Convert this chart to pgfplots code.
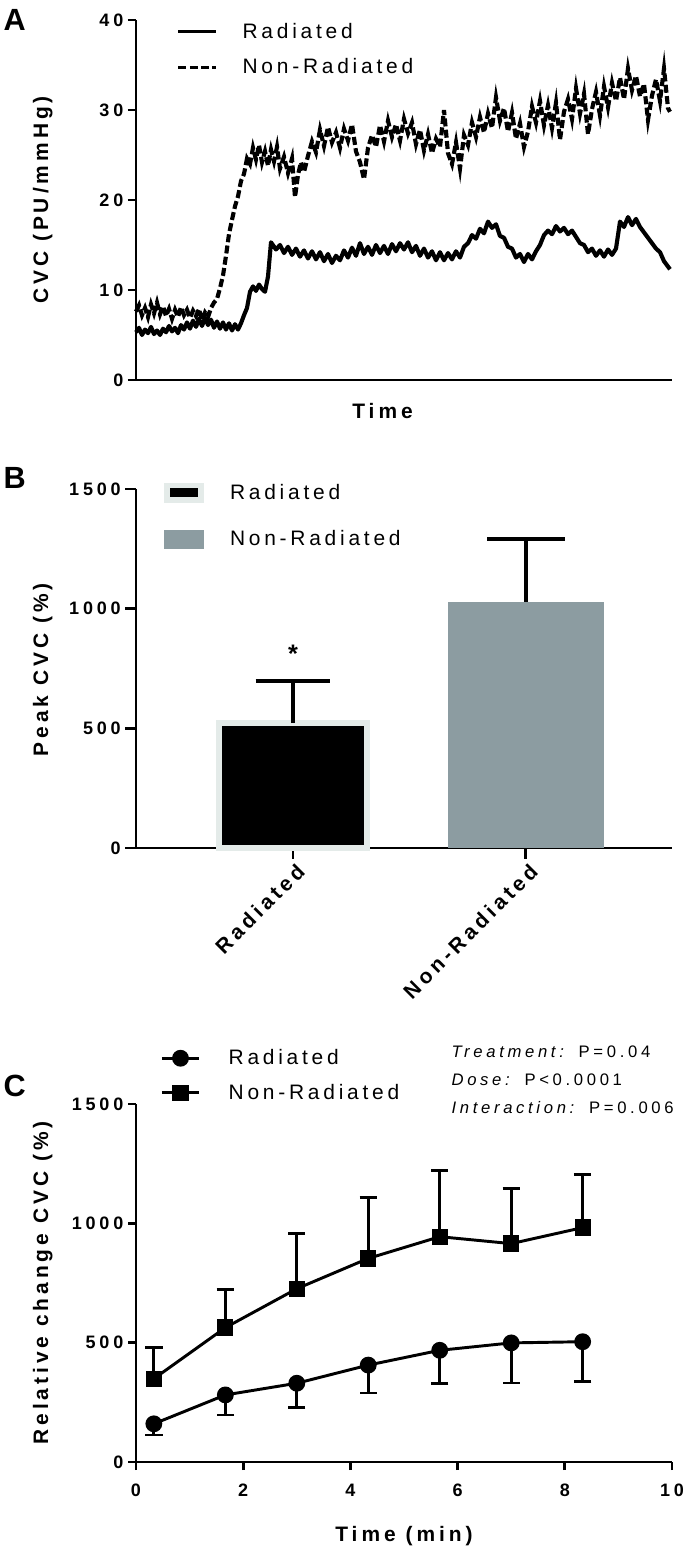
\documentclass[border=0pt]{standalone}
\usepackage{fontspec}
\setmainfont{Liberation Sans}
\newfontfamily\tickf[LetterSpace=21]{Liberation Sans}
\newfontfamily\labf[LetterSpace=19]{Liberation Sans}
\newfontfamily\legf[LetterSpace=18]{Liberation Sans}
\newfontfamily\anf[LetterSpace=22]{Liberation Sans}
\usepackage{pgfplots}
\usepackage{pgfplotstable}
\pgfplotsset{compat=1.18}
\definecolor{bordc}{HTML}{E4EBE9}
\definecolor{barg}{HTML}{8C9CA1}

\pgfplotstableread{
x y
0 5.3
3 5.8
6 5.0
9 5.6
12 5.2
15 5.9
18 5.1
21 5.5
24 5.0
27 5.7
30 5.3
33 6.0
36 5.4
39 5.8
42 5.2
45 6.1
48 5.6
51 6.4
54 5.7
57 6.6
60 5.9
63 6.8
66 6.0
69 6.9
72 6.1
75 6.7
78 5.8
81 6.5
84 5.7
87 6.4
90 5.6
93 6.3
96 5.5
99 6.2
102 5.6
105 6.3
108 7.2
111 8.0
114 9.8
117 10.4
120 9.9
123 10.6
126 10.1
129 9.8
132 11.5
135 15.3
140 14.5
144 15.0
148 14.1
152 14.8
156 13.9
160 14.6
164 13.7
168 14.4
172 13.5
176 14.3
180 13.4
184 14.2
188 13.2
192 14.0
196 13.0
200 13.8
204 13.3
208 14.4
212 13.6
216 14.7
220 13.8
224 15.2
228 14.0
232 14.8
236 13.9
240 15.0
244 14.1
248 14.9
252 14.0
256 15.1
260 14.3
264 15.2
268 14.5
272 15.3
276 14.2
280 14.9
284 13.8
288 14.6
292 13.6
296 14.3
300 13.3
304 14.2
308 13.3
312 14.1
316 13.4
320 14.3
324 13.6
328 14.8
332 15.2
336 16.1
340 15.7
344 16.8
348 16.3
352 17.6
356 16.9
360 17.3
364 16.0
368 15.8
372 14.8
376 14.6
380 13.6
384 14.0
388 13.1
392 14.0
396 13.4
400 14.3
404 15.0
408 16.1
412 16.6
416 16.2
420 17.1
424 16.5
428 16.9
432 16.2
436 16.6
440 15.9
444 15.2
448 15.0
452 14.2
456 14.6
460 13.8
464 14.4
468 13.7
472 14.5
476 13.9
480 14.6
484 17.6
488 17.0
492 18.1
496 17.2
500 17.9
504 17.0
508 16.4
512 15.8
516 15.2
520 14.6
524 14.2
528 13.2
532 12.6
534 12.3
}\radtrace

\pgfplotstableread{
x y
0 7.6
3 8.3
6 7.2
9 8.0
12 7.0
15 8.4
18 7.4
21 8.6
24 7.3
27 8.2
30 7.1
33 7.9
36 6.8
39 7.8
42 7.0
45 8.1
48 7.2
51 7.8
54 6.9
57 7.7
60 7.1
63 7.9
66 6.6
69 7.5
72 7.0
75 8.0
78 8.6
81 9.0
84 10.2
87 11.6
90 13.8
93 16.2
96 17.8
99 19.3
102 20.4
105 22.1
108 22.9
111 24.6
114 24.0
117 25.8
120 24.5
123 26.1
126 24.2
129 25.4
132 23.8
135 25.6
138 24.3
141 25.9
144 23.5
148 24.8
152 23.0
156 24.6
159 20.3
162 22.8
165 24.2
168 23.1
172 24.9
176 26.5
180 25.3
184 27.8
188 26.0
192 28.1
196 26.4
200 27.5
204 25.8
208 27.9
212 26.6
216 28.4
220 25.4
224 24.2
228 22.3
232 25.8
236 27.2
240 25.9
244 28.3
248 26.5
252 28.8
256 27.0
260 28.4
264 26.6
268 29.0
272 27.4
276 28.6
280 26.2
284 27.8
288 25.5
292 27.3
296 25.2
300 26.8
304 25.9
308 30.0
312 25.2
316 24.0
320 26.4
324 23.5
328 27.2
332 26.1
336 28.6
340 27.0
344 29.2
348 27.5
352 29.6
356 28.0
360 31.4
364 28.8
368 30.2
372 27.6
376 29.7
380 26.8
384 28.5
388 25.9
392 27.6
396 30.4
400 28.6
404 31.0
408 28.3
412 30.5
416 28.0
420 30.8
424 26.7
428 29.8
432 31.2
436 29.0
440 32.4
444 29.6
448 31.8
452 27.3
456 30.1
460 32.0
464 29.4
468 32.6
472 30.3
476 33.0
480 31.0
484 33.6
488 31.2
492 34.6
496 32.2
500 33.8
504 31.5
508 32.9
512 28.9
516 31.6
520 33.4
524 31.0
528 34.6
532 30.2
534 29.8
}\nonradtrace

\pgfplotstableread{
x y err
0.333 160 47
1.667 281 84
3 330 102
4.333 406 117
5.667 468 138
7 499 168
8.333 504 167
}\radC

\pgfplotstableread{
x y err
0.333 349 130
1.667 563 160
3 726 232
4.333 853 257
5.667 944 278
7 915 230
8.333 982 223
}\nonradC

\pgfplotsset{
  panel/.style={
    scale only axis,
    width=402pt,
    axis x line*=bottom,
    axis y line*=left,
    axis line style={line width=2.2pt},
    every tick/.style={line width=2.2pt, black},
    tick align=outside,
    major tick length=6pt,
    ticklabel style={font=\tickf\bfseries\fontsize{13.5}{13.5}\selectfont},
    /pgf/number format/assume math mode=true,
    /pgf/number format/1000 sep={},
    xlabel style={font=\labf\bfseries\fontsize{15.7}{15.7}\selectfont},
    ylabel style={font=\labf\bfseries\fontsize{15.7}{15.7}\selectfont},
    clip=false,
    legend cell align=left,
  },
}

\begin{document}
\begin{tikzpicture}
\useasboundingbox (0,0) rectangle (513.75pt,1161.75pt);

% Panel letters
\node[font=\bfseries\fontsize{23}{23}\selectfont, anchor=center] at (11pt,1147pt) {A};
\node[font=\bfseries\fontsize{23}{23}\selectfont, anchor=center] at (11pt,803pt) {B};
\node[font=\bfseries\fontsize{23}{23}\selectfont, anchor=center] at (11pt,347pt) {C};

% ---------------- Panel A
\begin{axis}[panel,
  at={(102pt,876.75pt)}, anchor=south west,
  height=270pt,
  xmin=0, xmax=536, ymin=0, ymax=40,
  ytick={0,10,20,30,40}, xtick=\empty,
  xlabel={Time},
  xlabel style={at={(axis description cs:0.46,0)}, anchor=north, yshift=-14pt},
  ylabel={CVC (PU/mmHg)},
  ylabel style={at={(axis description cs:-0.174,0.5)}, anchor=center},
  legend style={at={(axis description cs:0.076,1.0)}, anchor=north west,
    draw=none, fill=none, font=\legf\fontsize{15.7}{15.7}\selectfont,
    row sep=10pt, inner sep=0pt,
    /tikz/every odd column/.append style={column sep=17pt}},
  legend image code/.code={\draw[#1, line width=2.2pt] (0pt,0pt) -- (28pt,0pt);},
]
\addplot[black, line width=3.1pt, line join=round] table[x=x,y=y] {\radtrace};
\addlegendentry{Radiated}
\addplot[black, line width=3.1pt, dash pattern=on 6pt off 2.5pt] table[x=x,y=y] {\nonradtrace};
\addlegendentry{Non-Radiated}
\end{axis}

% ---------------- Panel B
\begin{axis}[panel,
  at={(102pt,525.75pt)}, anchor=south west,
  height=269.25pt,
  xmin=0.326, xmax=2.627, ymin=0, ymax=1500,
  ytick={0,500,1000,1500},
  xtick={1,2}, xticklabels={Radiated,Non-Radiated},
  major tick length=8pt,
  xticklabel style={rotate=45, anchor=east, font=\labf\bfseries\fontsize{15.7}{15.7}\selectfont, xshift=3pt, yshift=-9pt},
  ylabel={Peak CVC  (\%)},
  ylabel style={at={(axis description cs:-0.174,0.496)}, anchor=center},
  legend style={at={(axis description cs:0.052,1.022)}, anchor=north west,
    draw=none, fill=none, font=\legf\fontsize{15.7}{15.7}\selectfont,
    row sep=18pt, inner sep=0pt,
    /tikz/every odd column/.append style={column sep=18pt}},
]
\addlegendimage{legend image code/.code={
  \fill[bordc] (0pt,-7pt) rectangle (29pt,7pt);
  \fill[black] (4.5pt,-3pt) rectangle (24.5pt,3pt);}}
\addlegendentry{Radiated}
\addlegendimage{legend image code/.code={
  \fill[barg] (0pt,-7pt) rectangle (29pt,7pt);}}
\addlegendentry{Non-Radiated}
\addplot[ybar, bar shift=0pt, bar width=111pt, fill=black, draw=bordc, line width=4.5pt,
  error bars/.cd, y dir=plus, y explicit,
  error bar style={line width=2.6pt, black},
  error mark options={line width=2.6pt, mark size=28pt, black, rotate=90}]
  coordinates {(1,522) +- (0,175)};
\addplot[ybar, bar shift=0pt, bar width=117pt, fill=barg, draw=none,
  error bars/.cd, y dir=plus, y explicit,
  error bar style={line width=2.6pt, black},
  error mark options={line width=2.6pt, mark size=29pt, black, rotate=90}]
  coordinates {(2,1028) +- (0,264)};
\node[font=\bfseries\fontsize{19}{19}\selectfont] at (axis cs:1,812) {*};
\end{axis}

% ---------------- Panel C
\begin{axis}[panel,
  at={(102pt,65.25pt)}, anchor=south west,
  height=268.5pt,
  xmin=0, xmax=10, ymin=0, ymax=1500,
  xtick={0,2,4,6,8,10}, ytick={0,500,1000,1500},
  xticklabel style={yshift=-7pt},
  xlabel={Time (min)},
  xlabel style={at={(axis description cs:0.5,0)}, anchor=north, yshift=-45pt},
  ylabel={Relative change CVC  (\%)},
  ylabel style={at={(axis description cs:-0.174,0.5)}, anchor=center},
  legend style={at={(axis description cs:0.045,1.16)}, anchor=north west,
    draw=none, fill=none, font=\legf\fontsize{15.7}{15.7}\selectfont,
    row sep=9pt, inner sep=0pt,
    /tikz/every odd column/.append style={column sep=19pt}},
  legend image code/.code={\draw[#1] (0pt,0pt) -- (28pt,0pt); \draw[#1] plot coordinates {(14pt,0pt)};},
]
\addplot[black, line width=2.2pt, mark=*, mark size=5.2pt,
  error bars/.cd, y dir=minus, y explicit,
  error bar style={line width=2.2pt},
  error mark options={line width=2.2pt, mark size=6.5pt, rotate=90}]
  table[x=x, y=y, y error=err] {\radC};
\addlegendentry{Radiated}
\addplot[black, line width=2.2pt, mark=square*, mark size=5pt,
  error bars/.cd, y dir=plus, y explicit,
  error bar style={line width=2.2pt},
  error mark options={line width=2.2pt, mark size=6.5pt, rotate=90}]
  table[x=x, y=y, y error=err] {\nonradC};
\addlegendentry{Non-Radiated}
\node[anchor=west, font=\anf\fontsize{12.5}{12.5}\selectfont] at (axis description cs:0.58,1.145) {\textit{Treatment:} P=0.04};
\node[anchor=west, font=\anf\fontsize{12.5}{12.5}\selectfont] at (axis description cs:0.58,1.067) {\textit{Dose:} P<0.0001};
\node[anchor=west, font=\anf\fontsize{12.5}{12.5}\selectfont] at (axis description cs:0.58,0.989) {\textit{Interaction:} P=0.006};
\end{axis}
\end{tikzpicture}
\end{document}
